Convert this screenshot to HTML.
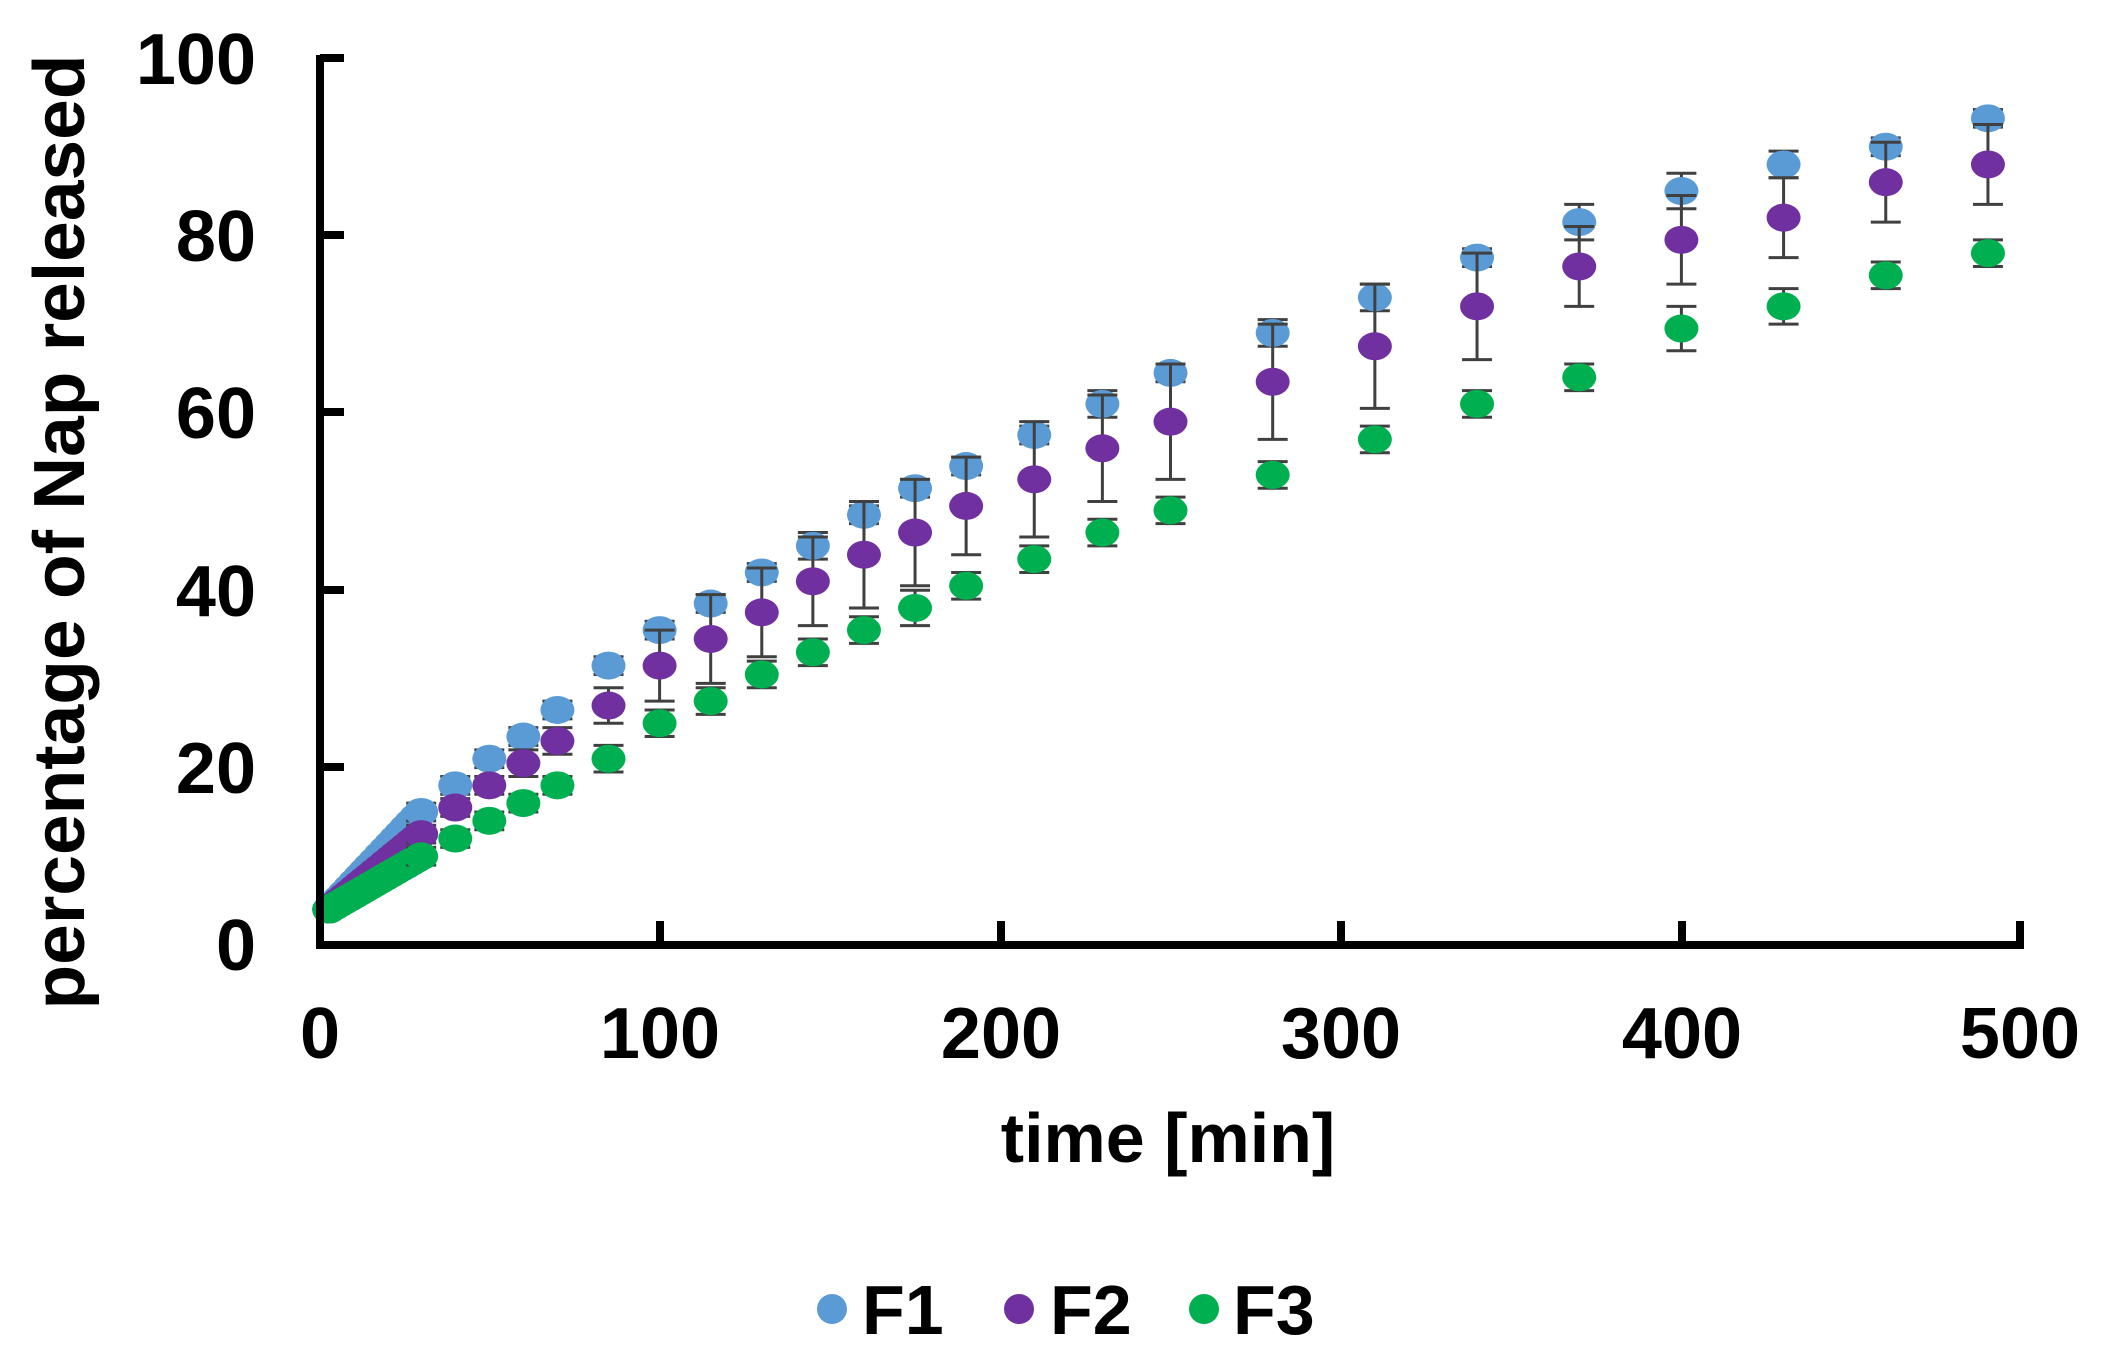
<!DOCTYPE html>
<html><head><meta charset="utf-8"><style>
html,body{margin:0;padding:0;background:#fff;}
svg{display:block;font-family:"Liberation Sans",Arial,sans-serif;font-weight:bold;}
</style></head><body>
<svg id="s" width="2102" height="1358" viewBox="0 0 2102 1358" xmlns="http://www.w3.org/2000/svg">
<rect width="2102" height="1358" fill="#fff"/>
<g id="pts"></g>
<g stroke="#000" stroke-width="8" fill="none">
<line x1="320" y1="55" x2="320" y2="949"/>
<line x1="316" y1="945" x2="2024" y2="945"/>
<line x1="320" y1="58" x2="344" y2="58"/>
<line x1="320" y1="235" x2="344" y2="235"/>
<line x1="320" y1="412" x2="344" y2="412"/>
<line x1="320" y1="590" x2="344" y2="590"/>
<line x1="320" y1="767" x2="344" y2="767"/>
<line x1="660" y1="945" x2="660" y2="921"/>
<line x1="1001" y1="945" x2="1001" y2="921"/>
<line x1="1341" y1="945" x2="1341" y2="921"/>
<line x1="1682" y1="945" x2="1682" y2="921"/>
<line x1="2020" y1="945" x2="2020" y2="921"/>
</g>
<g font-size="72" text-anchor="end">
<text x="256" y="84">100</text>
<text x="256" y="261">80</text>
<text x="256" y="438">60</text>
<text x="256" y="616">40</text>
<text x="256" y="793">20</text>
<text x="256" y="970">0</text>
</g>
<g font-size="72" text-anchor="middle">
<text x="320" y="1058">0</text>
<text x="660" y="1058">100</text>
<text x="1001" y="1058">200</text>
<text x="1341" y="1058">300</text>
<text x="1682" y="1058">400</text>
<text x="2020" y="1058">500</text>
</g>
<text x="1168" y="1162" font-size="70" text-anchor="middle">time [min]</text>
<text transform="translate(84,532) rotate(-90)" font-size="72" text-anchor="middle" textLength="955" lengthAdjust="spacingAndGlyphs">percentage of Nap released</text>
<g font-size="70">
<circle cx="832" cy="1309" r="15" fill="#5b9bd5"/><text x="862" y="1334">F1</text>
<circle cx="1019" cy="1309" r="15" fill="#7030a0"/><text x="1050" y="1334">F2</text>
<circle cx="1204" cy="1309" r="15" fill="#00b050"/><text x="1233" y="1334">F3</text>
</g>
</svg>
<script>
var X=t=>319+3.406*t, Y=v=>945-8.87*v;
var ts=[30,40,50,60,70,85,100,115,130,145,160,175,190,210,230,250,280,310,340,370,400,430,460,490];
var F1=[15,18,21,23.5,26.5,31.5,35.5,38.5,42,45,48.5,51.5,54,57.5,61,64.5,69,73,77.5,81.5,85,88,90,93.2];
var F2=[12.5,15.5,18,20.5,23,27,31.5,34.5,37.5,41,44,46.5,49.5,52.5,56,59,63.5,67.5,72,76.5,79.5,82,86,88];
var F3=[10,12,14,16,18,21,25,27.5,30.5,33,35.5,38,40.5,43.5,46.5,49,53,57,61,64,69.5,72,75.5,78];
var E1=[1,1,1,1,1,1,1,1,1,1.5,1,1,1,1,1.5,1,1.5,1.5,1,2,2,1.5,1,1];
var E2=[1,1,1,1.5,1.5,2,4,5,5,5,6,6,5.5,6.5,6,6.5,6.5,7,6,4.5,5,4.5,4.5,4.5];
var E3=[1,1,1,1,1,1.5,1.5,1.5,1.5,1.5,1.5,2,1.5,1.5,1.5,1.5,1.5,1.5,1.5,1.5,2.5,2,1.5,1.5];
var g=document.getElementById('pts'),h='';
function series(d,e,c){var s='';
 for(var t=3;t<30;t+=1.5){var v=4+(d[0]-4)*(t-3)/27;s+='<ellipse cx="'+X(t)+'" cy="'+Y(v)+'" rx="17" ry="14" fill="'+c+'"/>';}
 for(var i=0;i<ts.length;i++){var x=X(ts[i]);
  s+='<g stroke="#404040" stroke-width="3"><line x1="'+x+'" y1="'+Y(d[i]+e[i])+'" x2="'+x+'" y2="'+Y(d[i]-e[i])+'"/><line x1="'+(x-15)+'" x2="'+(x+15)+'" y1="'+Y(d[i]+e[i])+'" y2="'+Y(d[i]+e[i])+'"/><line x1="'+(x-15)+'" x2="'+(x+15)+'" y1="'+Y(d[i]-e[i])+'" y2="'+Y(d[i]-e[i])+'"/></g>';
  s+='<ellipse cx="'+x+'" cy="'+Y(d[i])+'" rx="17" ry="14" fill="'+c+'"/>';}
 return s;}
h+=series(F1,E1,'#5b9bd5');h+=series(F2,E2,'#7030a0');h+=series(F3,E3,'#00b050');
g.innerHTML=h;
</script>
</body></html>
